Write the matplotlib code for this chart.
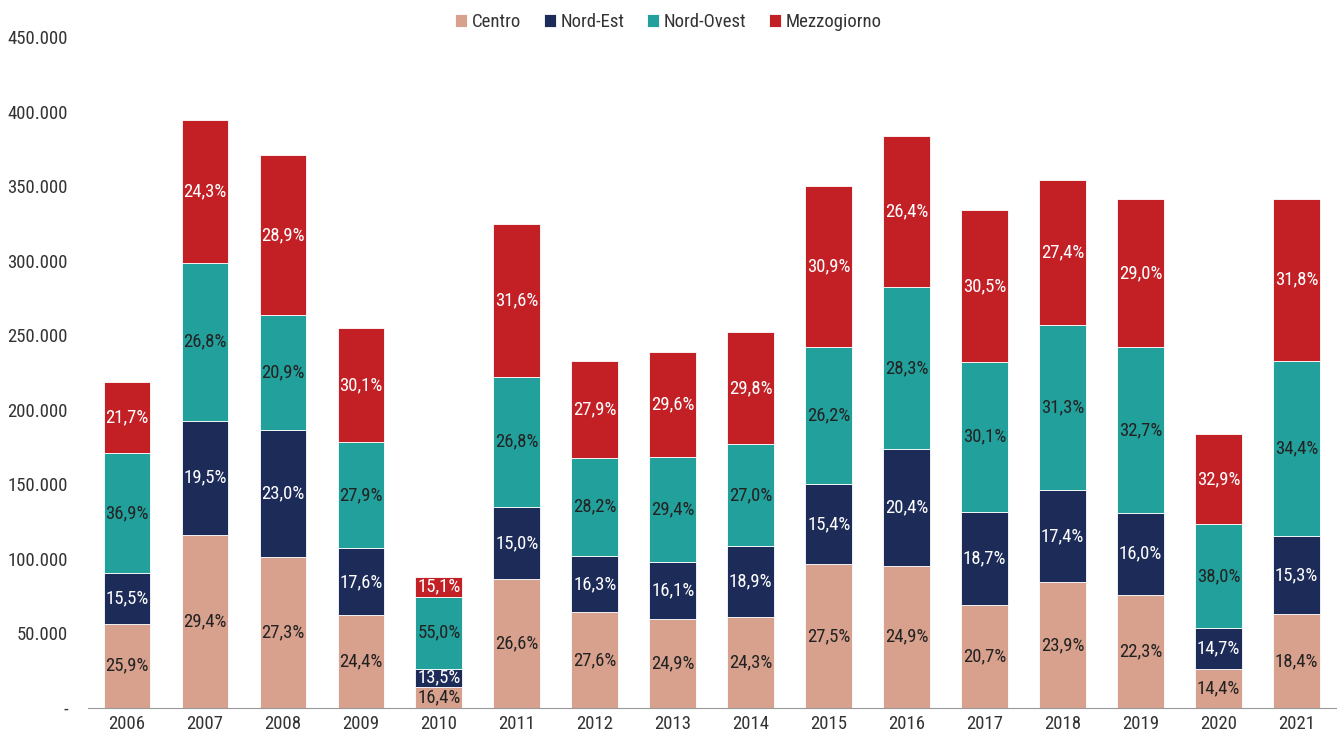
import matplotlib.pyplot as plt
import numpy as np

plt.rcParams['font.family'] = ['Roboto Condensed', 'Roboto', 'DejaVu Sans']

years = ['2006', '2007', '2008', '2009', '2010', '2011', '2012', '2013',
         '2014', '2015', '2016', '2017', '2018', '2019', '2020', '2021']
totals = [218600, 394300, 370200, 254800, 87900, 324600, 232700, 238700,
          252100, 350000, 383600, 334000, 354100, 341300, 183700, 342000]

regions = ['Centro', 'Nord-Est', 'Nord-Ovest', 'Mezzogiorno']
centro = [25.9, 29.4, 27.3, 24.4, 16.4, 26.6, 27.6, 24.9, 24.3, 27.5, 24.9, 20.7, 23.9, 22.3, 14.4, 18.4]
nord_est = [15.5, 19.5, 23.0, 17.6, 13.5, 15.0, 16.3, 16.1, 18.9, 15.4, 20.4, 18.7, 17.4, 16.0, 14.7, 15.3]
nord_ovest = [36.9, 26.8, 20.9, 27.9, 55.0, 26.8, 28.2, 29.4, 27.0, 26.2, 28.3, 30.1, 31.3, 32.7, 38.0, 34.4]
mezzogiorno = [21.7, 24.3, 28.9, 30.1, 15.1, 31.6, 27.9, 29.6, 29.8, 30.9, 26.4, 30.5, 27.4, 29.0, 32.9, 31.8]

colors = ['#D8A18E', '#1D2B59', '#22A09C', '#C32026']
text_colors = ['#222222', 'white', '#222222', 'white']

fig = plt.figure(figsize=(13.37, 7.33), dpi=100)
ax = fig.add_axes([0.0658, 0.0341, 0.9332, 0.9154])

x = np.arange(len(years))
tot = np.array(totals, dtype=float)
bottom = np.zeros(len(years))
for name, pcts, col, tcol in zip(regions, [centro, nord_est, nord_ovest, mezzogiorno], colors, text_colors):
    vals = tot * np.array(pcts) / 100
    ax.bar(x, vals, 0.6, bottom=bottom, color=col, label=name, edgecolor='white', linewidth=0.6)
    for xi, b, v, p in zip(x, bottom, vals, pcts):
        ax.text(xi, b + v / 2, f'{p:.1f}%'.replace('.', ','), ha='center', va='center',
                color=tcol, fontsize=13.5)
    bottom += vals

ax.set_xlim(-0.5, len(years) - 0.5)
ax.set_ylim(0, 450000)
ax.set_xticks(x)
ax.set_xticklabels(years, fontsize=13.5, color='#333333')
yt = np.arange(0, 450001, 50000)
ax.set_yticks(yt)
ax.set_yticklabels(['-'] + [f'{int(v):,}'.replace(',', '.') for v in yt[1:]], fontsize=13.5, color='#333333')
ax.tick_params(axis='y', length=0, pad=14.5)
ax.tick_params(axis='x', length=0, pad=5)
for s in ['top', 'right', 'left']:
    ax.spines[s].set_visible(False)
ax.spines['bottom'].set_color('#999999')

fig.legend(loc='upper center', bbox_to_anchor=(0.5, 1.005), ncol=4, frameon=False, fontsize=13.5,
           handlelength=0.65, handleheight=0.65, handletextpad=0.25, columnspacing=1.2,
           labelcolor='#333333')

fig.savefig('out.png', dpi=100)
